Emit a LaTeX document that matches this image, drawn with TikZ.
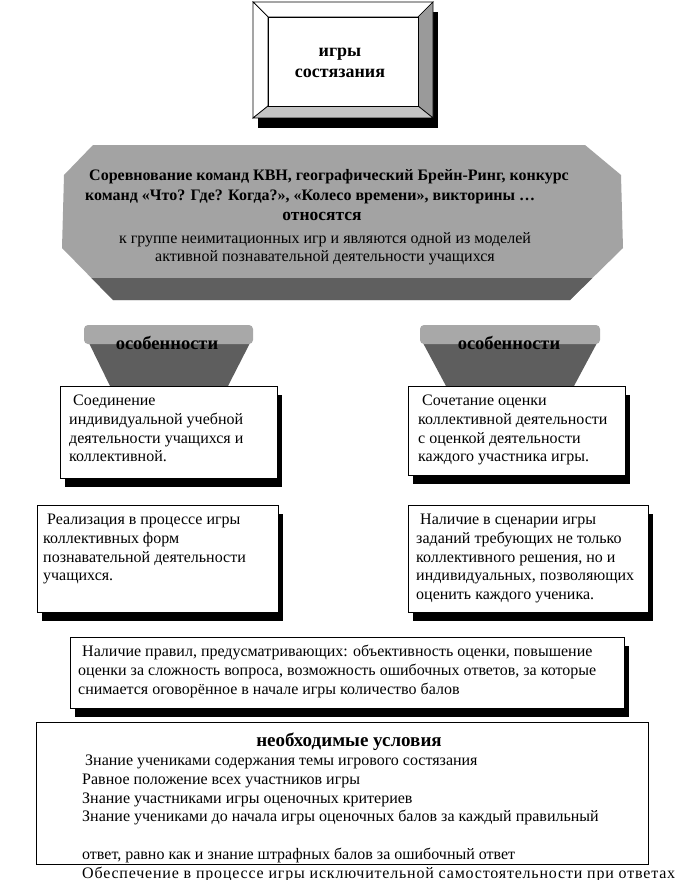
\documentclass[tikz,border=0pt]{standalone}
\usepackage{fontspec}
\setmainfont{Liberation Serif}
\usetikzlibrary{positioning, shadows}
\definecolor{Banner}{HTML}{A3A3A3}
\definecolor{BannerDark}{HTML}{5F5F5F}
\definecolor{BevelSide}{HTML}{9A9A9A}
\definecolor{BevelFloor}{HTML}{C4C4C4}
\definecolor{TabTop}{HTML}{A8A8A8}
\definecolor{TabBody}{HTML}{5E5E5E}

\begin{document}
\begin{tikzpicture}[x=1pt, y=-1pt,
    every node/.style={inner sep=0pt, font=\fontsize{16}{18.7}\selectfont},
    card/.style={rectangle, draw=black, fill=white, line width=0.8pt, anchor=north west,
        drop shadow={shadow xshift=5pt, shadow yshift=-9pt, fill=black, opacity=1}},
    cardtext/.style={anchor=north west, align=left},
    tabtext/.style={anchor=base, font=\fontsize{18.5}{20}\selectfont\bfseries},
    bevel/.style={draw=black, line width=0.7pt}
]
\useasboundingbox (0,0) rectangle (685,880);

% Title block
\fill[black] (258,12) rectangle (438,128);
\filldraw[bevel, fill=white] (253,2) -- (433,2) -- (418,17) -- (268,17) -- cycle;
\filldraw[bevel, fill=white] (253,2) -- (268,17) -- (268,106) -- (253,118) -- cycle;
\filldraw[bevel, fill=BevelSide] (433,2) -- (433,118) -- (418,106) -- (418,17) -- cycle;
\filldraw[bevel, fill=BevelFloor] (253,118) -- (433,118) -- (418,106) -- (268,106) -- cycle;
\filldraw[bevel, fill=white] (268,17) rectangle (418,106);
\node[align=center, font=\fontsize{18}{20.5}\selectfont\bfseries] (title) at (340,63) {игры\\состязания};

% Banner
\fill[Banner] (93,145) -- (585,145) -- (621,175) -- (623,248) -- (570,300)
    -- (113,300) -- (62,248) -- (64,175) -- cycle;
\begin{scope}
\clip (0,278) rectangle (685,300);
\fill[BannerDark] (62,248) -- (623,248) -- (570,300) -- (113,300) -- cycle;
\end{scope}
\node[anchor=north west, align=left, font=\fontsize{16}{20}\selectfont\bfseries] (games) at (85,169)
    {\hspace*{4pt}Соревнование команд КВН, географический Брейн-Ринг, конкурс\\
     команд «Что? Где? Когда?», «Колесо времени», викторины …};
\node[anchor=base, font=\fontsize{17.5}{20}\selectfont\bfseries] (rel) at (322,220) {относятся};
\node[anchor=north, align=center] (desc) at (325,232)
    {к группе неимитационных игр и являются одной из моделей\\
     активной познавательной деятельности учащихся};

% Tabs
\fill[TabBody] (89,343) -- (250,343) -- (228,386) -- (110,386) -- cycle;
\fill[TabTop, rounded corners=4pt] (84,325) rectangle (253,344);
\node[tabtext] (featL) at (167,349) {особенности};
\fill[TabBody] (423,343) -- (597,343) -- (574,386) -- (446,386) -- cycle;
\fill[TabTop, rounded corners=4pt] (420,325) rectangle (600,344);
\node[tabtext] (featR) at (509,349) {особенности};

% Cards
\node[card, minimum width=217pt, minimum height=92pt] (l1) at (60,386) {};
\node[cardtext] (l1text) at ([xshift=9pt, yshift=-9pt]l1.north west)
    {\hspace*{4pt}Соединение\\индивидуальной учебной\\деятельности учащихся и\\коллективной.};
\node[card, minimum width=217pt, minimum height=89pt] (r1) at (408,386) {};
\node[cardtext] (r1text) at ([xshift=10pt, yshift=-9pt]r1.north west)
    {\hspace*{4pt}Сочетание оценки\\коллективной деятельности\\с оценкой деятельности\\каждого участника игры.};
\node[card, minimum width=241pt, minimum height=107pt] (l2) at (37,505) {};
\node[cardtext] (l2text) at ([xshift=6pt, yshift=-9pt]l2.north west)
    {\hspace*{4pt}Реализация в процессе игры\\коллективных форм\\познавательной деятельности\\учащихся.};
\node[card, minimum width=240pt, minimum height=107pt] (r2) at (408,505) {};
\node[cardtext] (r2text) at ([xshift=8pt, yshift=-9pt]r2.north west)
    {\hspace*{4pt}Наличие в сценарии игры\\заданий требующих не только\\коллективного решения, но и\\индивидуальных, позволяющих\\оценить каждого ученика.};
\node[card, minimum width=554pt, minimum height=71pt] (rules) at (70,637) {};
\node[cardtext] (rulestext) at ([xshift=8pt, yshift=-8pt]rules.north west)
    {\hspace*{4pt}Наличие правил, предусматривающих: объективность оценки, повышение\\
     оценки за сложность вопроса, возможность ошибочных ответов, за которые\\
     снимается оговорённое в начале игры количество балов};

% Conditions
\node[draw=black, line width=0.8pt, anchor=north west, minimum width=612pt, minimum height=142pt] (cond) at (36,722) {};
\node[anchor=base, font=\fontsize{19}{21}\selectfont\bfseries] (condhead) at (349,746) {необходимые условия};
\node[cardtext] (condtext) at (82,755)
    {\hspace*{3pt}Знание учениками содержания темы игрового состязания\\
     Равное положение всех участников игры\\
     Знание участниками игры оценочных критериев\\
     Знание учениками до начала игры оценочных балов за каждый правильный\\[18.7pt]
     ответ, равно как и знание штрафных балов за ошибочный ответ\\
     {\addfontfeature{LetterSpace=5.0}Обеспечение в процессе игры исключительной самостоятельности при ответах}};
\end{tikzpicture}
\end{document}
